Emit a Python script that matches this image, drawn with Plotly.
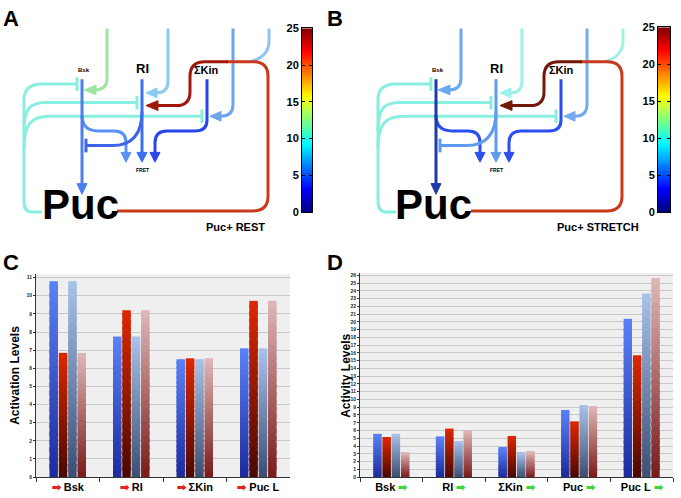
import re

import numpy as np
import plotly.graph_objects as go

W, H = 681, 498
FONT = "Liberation Sans, Arial, sans-serif"

# ---- panel C: activation levels ----
C_CATS = ["Bsk", "RI", "ΣKin", "Puc L"]
C_BLUE = [10.8, 7.75, 6.5, 7.1]
C_RED = [6.85, 9.2, 6.55, 9.72]
C_SLATE = [10.8, 7.75, 6.5, 7.1]
C_PINK = [6.85, 9.2, 6.55, 9.72]

# ---- panel D: activity levels ----
D_CATS = ["Bsk", "RI", "ΣKin", "Puc", "Puc L"]
D_BLUE = [5.58, 5.25, 3.85, 8.65, 20.4]
D_RED = [5.12, 6.25, 5.3, 7.18, 15.7]
D_SLATE = [5.58, 4.62, 3.15, 9.28, 23.65]
D_PINK = [3.22, 6.02, 3.35, 9.15, 25.65]

# ---- colour bars of panels A and B ----
CBAR_TICKS = [0, 5, 10, 15, 20, 25]
JET = [[0, "rgb(0,0,128)"], [0.125, "rgb(0,0,255)"], [0.375, "rgb(0,255,255)"],
       [0.625, "rgb(255,255,0)"], [0.875, "rgb(255,0,0)"], [1, "rgb(128,0,0)"]]

# bottom -> top gradient of each series
GRADIENTS = [("#1c2a9c", "#5b82f7"), ("#4a0800", "#dd2800"),
             ("#3c4e72", "#a9c2ea"), ("#7a1a1a", "#dfb8b8")]


def mix(c1, c2, t):
    a = [int(c1[i:i + 2], 16) for i in (1, 3, 5)]
    b = [int(c2[i:i + 2], 16) for i in (1, 3, 5)]
    return "rgb(%d,%d,%d)" % tuple(round(a[k] + (b[k] - a[k]) * t) for k in range(3))


def gradient_bars(fig, cats, values, grad, group, xa, ya, n=24):
    v = np.array(values, dtype=float)
    for i in range(n):
        h = v / n * (1.6 if i < n - 1 else 1.0)
        fig.add_trace(go.Bar(
            x=cats, y=h, base=v * i / n, offsetgroup=group,
            marker=dict(color=mix(grad[0], grad[1], (i + 0.5) / n), line_width=0),
            xaxis=xa, yaxis=ya, showlegend=False, hoverinfo="skip",
        ))


def dom_x(a, b):
    return [a / W, b / W]


def dom_y(top, bottom):
    return [1 - bottom / H, 1 - top / H]


fig = go.Figure()

for vals, grad, g in zip([C_BLUE, C_RED, C_SLATE, C_PINK], GRADIENTS, "abcd"):
    gradient_bars(fig, C_CATS, vals, grad, g, "x", "y")
for vals, grad, g in zip([D_BLUE, D_RED, D_SLATE, D_PINK], GRADIENTS, "abcd"):
    gradient_bars(fig, D_CATS, vals, grad, g, "x2", "y2")

levels = np.linspace(0, 25, 126)
for xa, ya in (("x3", "y3"), ("x4", "y4")):
    fig.add_trace(go.Heatmap(
        z=[[v] for v in levels], x=[0], y=levels, colorscale=JET,
        zmin=0, zmax=25, showscale=False, hoverinfo="skip", xaxis=xa, yaxis=ya,
    ))

# ---- network diagrams (pixel coords of panel A, B is shifted) ----
shapes = []


def conv(s):
    return re.sub(r"(-?[\d.]+),(-?[\d.]+)",
                  lambda m: "%.5f,%.5f" % (float(m[1]) / W, 1 - float(m[2]) / H), s)


def line(s, color, width=3):
    shapes.append(dict(type="path", path=conv(s), xref="paper", yref="paper",
                       line=dict(color=color, width=width), fillcolor="rgba(0,0,0,0)"))


def head(x, y, d, color, ln=10, hw=5):
    if d == "down":
        s = f"M{x},{y} L{x - hw},{y - ln} L{x + hw},{y - ln} Z"
    else:
        s = f"M{x},{y} L{x + ln},{y - hw} L{x + ln},{y + hw} Z"
    shapes.append(dict(type="path", path=conv(s), xref="paper", yref="paper",
                       line=dict(color=color, width=1), fillcolor=color))


def tbar(x, y, color):
    line(f"M{x},{y - 7} L{x},{y + 7}", color, 3)


def network(o, c):
    # inhibition from Puc (cyan)
    line(f"M{42 + o},211 L{32 + o},211 Q{24 + o},211 {24 + o},200 L{24 + o},96 "
         f"Q{24 + o},80 {42 + o},80 L{77 + o},80", c["inh"])
    line(f"M{24 + o},128 C{24 + o},106 {29 + o},99 {46 + o},99 L{137 + o},99", c["inh"])
    line(f"M{24 + o},146 C{24 + o},121 {31 + o},113 {50 + o},113 L{202 + o},113", c["inh"])
    tbar(77 + o, 80, c["inh"])
    tbar(137 + o, 99, c["inh"])
    tbar(202 + o, 113, c["inh"])
    # inputs from the top
    line(f"M{107 + o},23 L{107 + o},74 Q{107 + o},86 {95 + o},86", c["top1"])
    head(84 + o, 86, "left", c["top1"], 12, 5)
    line(f"M{168 + o},23 L{168 + o},77 Q{168 + o},89 {156 + o},89", c["top2"])
    head(146 + o, 89, "left", c["top2"], 11, 5)
    line(f"M{233 + o},23 L{233 + o},101 Q{233 + o},113 {221 + o},113", c["top3"])
    head(210 + o, 113, "left", c["top3"], 11, 5)
    line(f"M{269 + o},23 L{269 + o},36 Q{269 + o},52 {250 + o},57", c["top4"])
    # Bsk
    line(f"M{82 + o},112 Q{82 + o},128 {98 + o},128 L{114 + o},128 "
         f"Q{126 + o},128 {126 + o},140 L{126 + o},151", c["bsk_fret"])
    head(126 + o, 160, "down", c["bsk_fret"], 10, 5)
    line(f"M{82 + o},75 L{82 + o},183", c["bsk_puc"])
    head(82 + o, 193, "down", c["bsk_puc"], 11, 5)
    # RI
    line(f"M{142 + o},108 Q{142 + o},143 {112 + o},143 L{86 + o},143", c["ri_inh"])
    tbar(86 + o, 143, c["ri_inh"])
    line(f"M{142 + o},75 L{142 + o},151", c["ri_fret"])
    head(142 + o, 160, "down", c["ri_fret"], 10, 5)
    # Kin
    line(f"M{207 + o},75 L{207 + o},117 Q{207 + o},128 {195 + o},128 L{167 + o},128 "
         f"Q{155 + o},128 {155 + o},140 L{155 + o},151", c["kin_fret"])
    head(155 + o, 160, "down", c["kin_fret"], 10, 5)
    # Puc feedback loop
    line(f"M{117 + o},210 L{253 + o},210 Q{268 + o},210 {268 + o},195 L{268 + o},72 "
         f"Q{268 + o},57 {253 + o},57 L{226 + o},57", c["loop"])
    line(f"M{228 + o},57 L{205 + o},57 Q{190 + o},57 {190 + o},72 L{190 + o},88 "
         f"Q{190 + o},102 {176 + o},102 L{158 + o},102", c["loop_end"])
    head(146 + o, 102, "left", c["loop_end"], 12, 5)


COL_A = dict(top1="#9de6a0", top2="#8bcaf3", top3="#6ea6ee", top4="#8fc4f2",
             loop="#c93a1c", loop_end="#a1180a", bsk_puc="#4a7ff0", bsk_fret="#5a91f3",
             ri_fret="#3c6ef0", ri_inh="#3d63e6", kin_fret="#2846ee", inh="#88eedf")
COL_B = dict(top1="#6aa9f0", top2="#9ef0ea", top3="#74aaf0", top4="#a2f0e2",
             loop="#c93a1c", loop_end="#731808", bsk_puc="#1e3aa8", bsk_fret="#2a4ef0",
             ri_fret="#5e9af0", ri_inh="#5e9af0", kin_fret="#2a4ef0", inh="#88eedf")
network(0, COL_A)
network(354, COL_B)

annotations = []


def text(x, y, s, size, bold=True, angle=0, color="black"):
    annotations.append(dict(
        x=x / W, y=1 - y / H, xref="paper", yref="paper", text=s, showarrow=False,
        xanchor="center", yanchor="middle", textangle=angle,
        font=dict(family=FONT, size=size, color=color, weight="bold" if bold else "normal"),
    ))


for o, tag in ((0, "Puc+ REST"), (354, "Puc+ STRETCH")):
    text(84 + o, 66, "Bsk", 6)
    text(142 + o, 64, "RI", 13)
    text(207 + o, 66, "ΣKin", 11)
    text(142 + o, 168, "FRET", 5)
    text(80 + o, 203, "Puc", 42)
    text(234 + o + (1 if o == 0 else 10), 226, tag, 11)

for x, y, s in ((11, 13, "A"), (335, 13, "B"), (11, 263, "C"), (335, 263, "D")):
    text(x, y, s, 22)
text(15, 379, "Activation Levels", 12, angle=-90)
text(346, 379, "Activity Levels", 12, angle=-90)

RED_ARROW = "<span style='color:#e82020'>➡</span>"
GREEN_ARROW = "<span style='color:#3ed83e'>➡</span>"

bar_x = dict(showline=True, linecolor="#333", linewidth=1, ticks="outside", ticklen=4,
             tickcolor="#333", tickson="boundaries", showgrid=False, tickmode="array",
             tickfont=dict(family=FONT, size=11, color="black", weight="bold"))
bar_y = dict(showline=True, linecolor="#333", linewidth=1, ticks="outside", ticklen=2,
             tickcolor="#333", dtick=1, gridcolor="#c8c8c8", gridwidth=1, zeroline=False,
             tickfont=dict(family=FONT, size=5, color="#222", weight="bold"))
cbar_x = dict(showline=True, linecolor="black", mirror=True, showticklabels=False,
              ticks="", showgrid=False, zeroline=False, range=[-0.5, 0.5])
cbar_y = dict(showline=True, linecolor="black", mirror="allticks", ticks="inside",
              ticklen=3, tickcolor="black", range=[0, 25], tickvals=CBAR_TICKS,
              showgrid=False, zeroline=False, side="left",
              tickfont=dict(family=FONT, size=11, color="black", weight="bold"))

fig.update_layout(
    width=W, height=H, margin=dict(l=0, r=0, t=0, b=0),
    paper_bgcolor="white", plot_bgcolor="#efefef",
    barmode="group", bargap=0.41, bargroupgap=0.1, showlegend=False,
    xaxis=dict(domain=dom_x(36, 290), anchor="y", tickvals=C_CATS,
               ticktext=[f"{RED_ARROW} {c}" for c in C_CATS], **bar_x),
    yaxis=dict(domain=dom_y(274.6, 482.7), anchor="x", range=[0, 11.2], **bar_y),
    xaxis2=dict(domain=dom_x(360, 673), anchor="y2", tickvals=D_CATS,
                ticktext=[f"{c} {GREEN_ARROW}" for c in D_CATS], **bar_x),
    yaxis2=dict(domain=dom_y(273.6, 482.7), anchor="x2", range=[0, 26.3], **bar_y),
    xaxis3=dict(domain=dom_x(302, 312), anchor="y3", **cbar_x),
    yaxis3=dict(domain=dom_y(23, 211), anchor="x3", **cbar_y),
    xaxis4=dict(domain=dom_x(658, 670), anchor="y4", **cbar_x),
    yaxis4=dict(domain=dom_y(22, 211), anchor="x4", **cbar_y),
    shapes=shapes, annotations=annotations,
)

# the page's default body margin would shift the figure by 8 px
fig.write_html("out.html", config={"displayModeBar": False},
               post_script="document.body.style.margin='0';")
